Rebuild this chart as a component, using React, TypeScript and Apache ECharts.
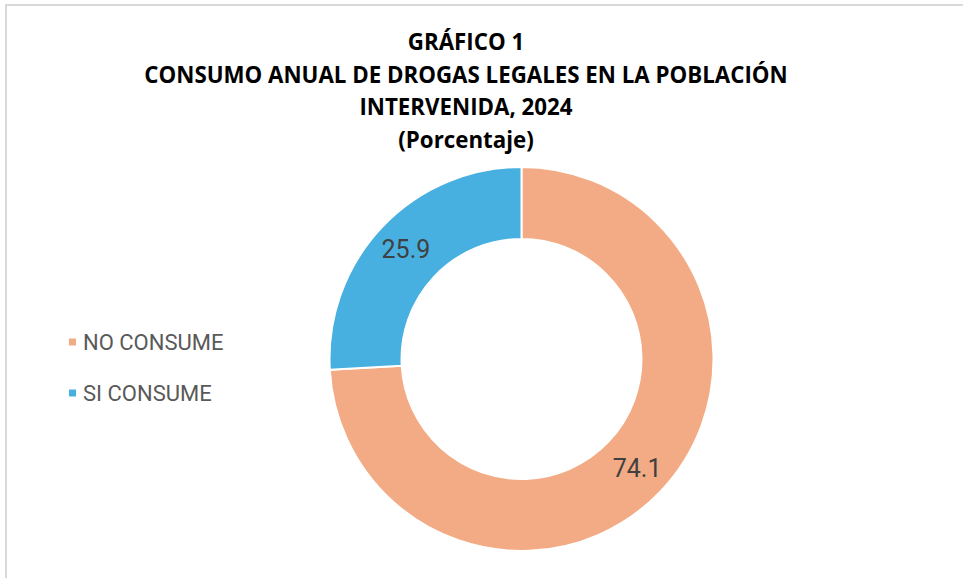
import React, { useEffect, useRef } from "react";
import * as echarts from "echarts";

const titleLines = [
  "GRÁFICO 1",
  "CONSUMO ANUAL DE DROGAS LEGALES EN LA POBLACIÓN",
  "INTERVENIDA, 2024",
  "(Porcentaje)",
];
const categories = ["NO CONSUME", "SI CONSUME"];
const values = [74.1, 25.9];
const colors = ["#F2AB84", "#47B0E0"];

export default function App() {
  const ref = useRef<HTMLDivElement>(null);
  useEffect(() => {
    document.body.style.margin = "0";
    if (!ref.current) return;
    const chart = echarts.init(ref.current, undefined, { renderer: "svg" });
    chart.setOption({
      animation: false,
      backgroundColor: "#ffffff",
      title: {
        text: titleLines.join("\n"),
        left: 461,
        top: 20,
        textAlign: "center",
        textStyle: {
          fontFamily: "Open Sans",
          fontWeight: "bold",
          fontSize: 22.3,
          lineHeight: 32.7,
          color: "#000000",
        },
      },
      legend: {
        orient: "vertical",
        left: 62,
        top: 326,
        icon: "rect",
        itemWidth: 9,
        itemHeight: 9,
        itemGap: 29,
        data: categories,
        textStyle: {
          fontFamily: "Roboto",
          fontSize: 22,
          color: "#595959",
          padding: [0, 0, 0, 1],
        },
      },
      graphic: [
        {
          type: "rect",
          silent: true,
          shape: { x: 6, y: 5, width: 1200, height: 1200 },
          style: { fill: "none", stroke: "#d9d9d9", lineWidth: 2 },
        },
      ],
      series: [
        {
          type: "pie",
          center: [521.5, 359],
          radius: [120, 192],
          startAngle: 90,
          clockwise: true,
          avoidLabelOverlap: false,
          itemStyle: { borderColor: "#ffffff", borderWidth: 2 },
          label: {
            show: true,
            position: "inside",
            formatter: (p: any) => p.value.toFixed(1),
            fontFamily: "Roboto",
            fontSize: 25,
            color: "#404040",
          },
          labelLine: { show: false },
          emphasis: { disabled: true },
          data: categories.map((c, i) => ({
            name: c,
            value: values[i],
            itemStyle: { color: colors[i] },
          })),
        },
      ],
    });
    return () => chart.dispose();
  }, []);
  return <div ref={ref} style={{ width: 963, height: 578 }} />;
}
